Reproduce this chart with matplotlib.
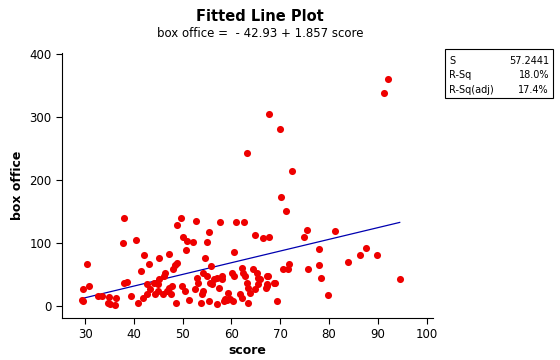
import numpy as np
import matplotlib
matplotlib.use("Agg")
import matplotlib.pyplot as plt
from matplotlib.patches import Rectangle

# values
score = [92.2, 91.2, 67.8, 70.0, 63.2, 72.4, 70.2, 71.2,
         75.4, 74.8, 81.3, 66.5, 67.8, 78.0, 87.5, 86.3, 89.8, 84.0, 70.5, 71.5,
         71.9, 75.8, 78.0, 78.3, 94.5, 79.9, 67.4, 65.9, 68.9, 67.2, 67.0, 69.4,
         52.8, 57.7, 61.0, 62.6, 55.5, 52.2, 54.9, 64.9, 60.6, 54.6,
         38.0, 49.7, 48.9, 37.8, 40.5, 50.1, 50.8, 50.7, 47.2, 42.1, 45.2,
         30.4, 43.1, 41.4, 48.4, 48.8, 48.1, 55.9,
         30.9, 29.6, 29.3, 29.6, 32.7, 33.4, 34.9, 36.3, 34.6, 35.1, 36.1, 38.0,
         38.5, 39.4, 40.9, 41.9, 42.6, 43.3, 42.6, 44.3, 45.0, 46.7, 47.7, 44.2,
         44.9, 46.2, 46.4, 45.2, 47.3, 46.0, 47.9, 48.7, 49.8, 50.5, 51.4, 52.9,
         53.2, 52.5, 53.7, 54.2, 54.9, 53.9, 54.2, 55.6, 56.0, 56.4, 57.0, 55.5,
         57.0, 58.0, 58.0, 57.5, 58.5, 59.4, 59.0, 60.3, 60.1, 60.5, 62.1, 62.4,
         62.8, 61.8, 62.1, 63.3, 63.1, 63.5, 63.8, 64.5, 65.2, 65.5, 64.8, 65.5,
         67.2, 67.2, 68.8, 59.7, 58.7]
box_office = [360, 339, 305, 281, 243, 214, 173, 150,
              121, 110, 119, 107, 110, 91, 92, 81, 80, 70, 59, 59,
              67, 59, 65, 44, 43, 17, 47, 42, 36, 34, 28, 8,
              135, 133, 133, 134, 117, 102, 101, 112, 85, 76,
              139, 139, 128, 100, 104, 110, 103, 89, 83, 80, 76,
              67, 67, 56, 65, 68, 58, 63,
              32, 27, 10, 7, 16, 16, 14, 13, 5, 3, 2, 36,
              38, 15, 4, 12, 34, 27, 19, 19, 23, 23, 19, 36,
              35, 47, 52, 42, 28, 19, 32, 4, 31, 23, 10, 44,
              36, 26, 5, 52, 47, 18, 23, 36, 34, 42, 44, 8,
              3, 47, 42, 28, 7, 20, 10, 7, 52, 47, 60, 52,
              47, 18, 12, 4, 36, 28, 20, 58, 52, 44, 26, 34,
              47, 31, 37, 11, 11]

intercept = -42.93
slope = 1.857
stat_names = ["S", "R-Sq", "R-Sq(adj)"]
stat_values = ["57.2441", "18.0%", "17.4%"]

fig = plt.figure(figsize=(5.6, 3.6), dpi=100)
ax = fig.add_axes([0.111, 0.117, 0.662, 0.736])

ax.scatter(score, box_office, s=26, color="#ee0000", zorder=3, linewidths=0)
xs = np.array([min(score), max(score)])
ax.plot(xs, intercept + slope * xs, color="#0000b0", lw=0.9, zorder=2)

ax.set_xlim(25.3, 101.3)
ax.set_ylim(-19.2, 402)
ax.set_xticks(range(30, 101, 10))
ax.set_yticks(range(0, 401, 100))
for s in ["top", "right"]:
    ax.spines[s].set_visible(False)
ax.tick_params(direction="out", length=4, labelsize=8.5, width=0.8)
ax.set_xlabel("score", fontsize=9, fontweight="bold", labelpad=2)
ax.set_ylabel("box office", fontsize=9, fontweight="bold", labelpad=4)

fig.text(0.464, 0.955, "Fitted Line Plot", ha="center", va="center",
         fontsize=10.5, fontweight="bold")
fig.text(0.464, 0.908, "box office =  - 42.93 + 1.857 score", ha="center",
         va="center", fontsize=8.5)

# stats box
fig.patches.append(Rectangle((445 / 560, 1 - 98 / 360), 108 / 560, 49 / 360,
                             transform=fig.transFigure, fill=False,
                             edgecolor="black", lw=0.8))
for i, (n, v) in enumerate(zip(stat_names, stat_values)):
    y = 1 - (61 + i * 14.5) / 360
    fig.text(449 / 560, y, n, ha="left", va="center", fontsize=7)
    fig.text(549 / 560, y, v, ha="right", va="center", fontsize=7)

fig.savefig("out.png", dpi=100)
